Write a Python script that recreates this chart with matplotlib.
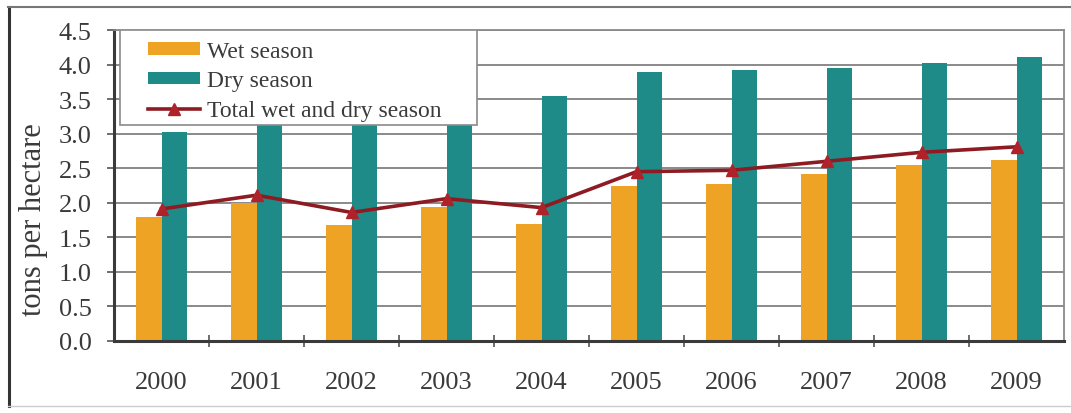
import matplotlib
matplotlib.use("Agg")
import matplotlib.pyplot as plt
from matplotlib.patches import Rectangle
from matplotlib.lines import Line2D
import numpy as np

years = ["2000", "2001", "2002", "2003", "2004", "2005", "2006", "2007", "2008", "2009"]
wet_season = [1.79, 1.99, 1.68, 1.94, 1.70, 2.25, 2.27, 2.41, 2.55, 2.62]
dry_season = [3.02, 3.20, 3.25, 3.30, 3.55, 3.89, 3.92, 3.95, 4.02, 4.11]
total_season = [1.91, 2.11, 1.86, 2.06, 1.93, 2.45, 2.47, 2.60, 2.73, 2.81]
y_ticks = [0.0, 0.5, 1.0, 1.5, 2.0, 2.5, 3.0, 3.5, 4.0, 4.5]

plt.rcParams['font.family'] = ['Liberation Serif', 'DejaVu Serif']

W, H = 1071, 414
fig = plt.figure(figsize=(W / 100, H / 100), dpi=100)
ax = fig.add_axes([114 / W, (H - 342) / H, 950 / W, 311 / H])

x = np.arange(len(years))
bw = 0.27
wet_c = "#EFA325"
dry_c = "#1F8B88"
line_c = "#8E1B22"
mark_c = "#B0222A"
txt_c = "#3a3a3a"

b1 = ax.bar(x - bw / 2, wet_season, bw, color=wet_c, zorder=2, label="Wet season")
b2 = ax.bar(x + bw / 2, dry_season, bw, color=dry_c, zorder=2, label="Dry season")
l1, = ax.plot(x, total_season, color=line_c, lw=2.6, marker="^", ms=9,
              mfc=mark_c, mec=mark_c, zorder=3, label="Total wet and dry season")

ax.set_xlim(-0.5, len(years) - 0.5)
ax.set_ylim(0, 4.5)
ax.set_yticks(y_ticks)
ax.set_yticklabels([f"{v:.1f}" for v in y_ticks], fontsize=19, color=txt_c)
ax.yaxis.grid(True, color="#8a8a8a", lw=1.4, zorder=0)
ax.set_axisbelow(True)

ax.set_xticks(x)
ax.set_xticklabels(years, fontsize=19, color=txt_c)
ax.tick_params(axis="x", which="major", length=0, pad=21.5)
ax.set_xticks(np.arange(0.5, len(years) - 1, 1.0), minor=True)
ax.tick_params(axis="x", which="minor", length=9, direction="inout", width=1.2, color="#555555")
ax.tick_params(axis="y", length=5, width=1.2, color="#555555", pad=11)

for s in ["left", "bottom"]:
    ax.spines[s].set_color("#3a3a3a")
    ax.spines[s].set_linewidth(2.2)
for s in ["top", "right"]:
    ax.spines[s].set_color("#8a8a8a")
    ax.spines[s].set_linewidth(1.3)

ax.set_ylabel("tons per hectare", fontsize=22, color=txt_c)
ax.yaxis.set_label_coords(-0.069, 0.392)

# legend background box
ax.add_patch(Rectangle((6 / 950, (342 - 126) / 311), (477 - 120) / 950, 95 / 311,
                       transform=ax.transAxes, facecolor="white", edgecolor="#8a8a8a",
                       lw=1.2, zorder=4))
leg = ax.legend([b1, b2, l1], ["Wet season", "Dry season", "Total wet and dry season"],
                loc="upper left", bbox_to_anchor=(34 / 950, 1 - 11 / 311), frameon=False,
                fontsize=17, handlelength=2.2, handleheight=0.45, handletextpad=0.3,
                labelspacing=0.36, borderaxespad=0, borderpad=0, labelcolor=txt_c)
leg.set_zorder(5)

# outer frame
fig.add_artist(Line2D([9 / W, 9 / W], [7 / H, 406 / H], transform=fig.transFigure,
                      color="#333333", lw=2.2))
fig.add_artist(Line2D([8 / W, 1071 / W], [406 / H, 406 / H], transform=fig.transFigure,
                      color="#777777", lw=1.5))
fig.add_artist(Line2D([8 / W, 1071 / W], [7 / H, 7 / H], transform=fig.transFigure,
                      color="#cccccc", lw=1.0))

fig.savefig("out.png", dpi=100)
